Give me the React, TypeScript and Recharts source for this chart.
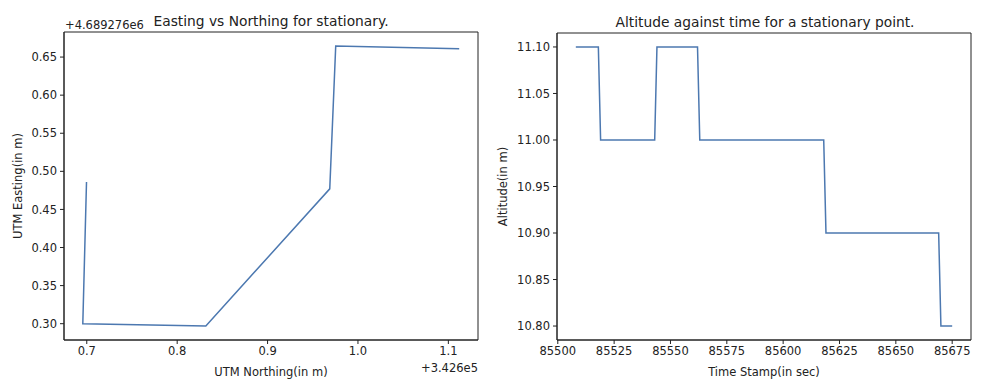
import React from "react";
import { LineChart, Line, XAxis, YAxis, Label, ReferenceArea } from "recharts";

// offsets shown by matplotlib next to the axes
const northingOffset = 342600;
const eastingOffset = 4689276;
const northingOffsetText = "+3.426e5";
const eastingOffsetText = "+4.689276e6";

// UTM values, relative to the offsets above
const northing = [0.6997, 0.6956, 0.8317, 0.9688, 0.9754, 1.112];
const easting = [0.486, 0.3, 0.297, 0.477, 0.6645, 0.661];
const northingTicks = [0.7, 0.8, 0.9, 1.0, 1.1];
const eastingTicks = [0.3, 0.35, 0.4, 0.45, 0.5, 0.55, 0.6, 0.65];

// altitude samples
const timeStamps = [85508, 85518, 85519, 85543, 85544, 85562, 85563, 85618, 85619, 85669, 85670, 85675];
const altitudes = [11.1, 11.1, 11.0, 11.0, 11.1, 11.1, 11.0, 11.0, 10.9, 10.9, 10.8, 10.8];
const timeTicks = [85500, 85525, 85550, 85575, 85600, 85625, 85650, 85675];
const altitudeTicks = [10.8, 10.85, 10.9, 10.95, 11.0, 11.05, 11.1];

const northingDomain: [number, number] = [0.6748, 1.1328];
const eastingDomain: [number, number] = [0.2786, 0.6829];
const timeDomain: [number, number] = [85499.65, 85683.35];
const altitudeDomain: [number, number] = [10.785, 11.115];

const FONT = "'DejaVu Sans', sans-serif";
const LINE = "#4c78b0";
const INK = "#222";
const tickStyle = { fontSize: 11.5, fill: INK, fontFamily: FONT };

const utmData = northing.map((n, i) => ({ n, e: easting[i] }));
const altData = timeStamps.map((t, i) => ({ t, a: altitudes[i] }));

const yLabel = (text: string, cx: number) => (props: any) => {
  const vb = props.viewBox;
  const y = vb.y + vb.height / 2;
  return (
    <text
      x={cx}
      y={y}
      transform={`rotate(-90 ${cx} ${y})`}
      textAnchor="middle"
      dominantBaseline="central"
      fontSize={11.5}
      fontFamily={FONT}
      fill={INK}
    >
      {text}
    </text>
  );
};

const titleStyle: React.CSSProperties = {
  position: "absolute",
  fontFamily: FONT,
  fontSize: 13.8,
  color: INK,
  whiteSpace: "nowrap",
  transform: "translate(-50%, -50%)",
};

const smallText: React.CSSProperties = {
  position: "absolute",
  fontFamily: FONT,
  fontSize: 11.5,
  color: INK,
  whiteSpace: "nowrap",
};

export default function App() {
  return (
    <div style={{ position: "absolute", left: 0, top: 0, width: 989, height: 382, background: "#fff" }}>
      <div style={{ position: "absolute", left: 0, top: 0 }}>
        <LineChart width={490} height={382} data={utmData} margin={{ top: 32, right: 12, bottom: 0, left: 0 }}>
          <XAxis
            dataKey="n"
            type="number"
            domain={northingDomain}
            allowDataOverflow
            ticks={northingTicks}
            tickFormatter={(v: number) => v.toFixed(1)}
            height={42}
            tickSize={4}
            tickMargin={3}
            tick={tickStyle}
            stroke={INK}
          >
            <Label value="UTM Northing(in m)" position="insideBottom" offset={6} style={tickStyle} />
          </XAxis>
          <YAxis
            dataKey="e"
            type="number"
            domain={eastingDomain}
            allowDataOverflow
            ticks={eastingTicks}
            tickFormatter={(v: number) => v.toFixed(2)}
            width={64}
            tickSize={4}
            tickMargin={3}
            tick={tickStyle}
            stroke={INK}
          >
            <Label content={yLabel("UTM Easting(in m)", 18)} />
          </YAxis>
          <ReferenceArea
            x1={northingDomain[0]}
            x2={northingDomain[1]}
            y1={eastingDomain[0]}
            y2={eastingDomain[1]}
            fill="none"
            fillOpacity={0}
            stroke={INK}
            strokeOpacity={1}
            strokeWidth={1}
          />
          <Line dataKey="e" stroke={LINE} strokeWidth={1.5} dot={false} isAnimationActive={false} />
        </LineChart>
      </div>
      <div style={{ ...titleStyle, left: 271, top: 21 }}>Easting vs Northing for stationary.</div>
      <div style={{ ...smallText, left: 65, top: 18 }} data-offset={eastingOffset}>{eastingOffsetText}</div>
      <div style={{ ...smallText, left: 421, top: 361 }} data-offset={northingOffset}>{northingOffsetText}</div>

      <div style={{ position: "absolute", left: 490, top: 0 }}>
        <LineChart width={499} height={382} data={altData} margin={{ top: 33, right: 18, bottom: 0, left: 0 }}>
          <XAxis
            dataKey="t"
            type="number"
            domain={timeDomain}
            allowDataOverflow
            ticks={timeTicks}
            height={42}
            tickSize={4}
            tickMargin={3}
            tick={tickStyle}
            stroke={INK}
          >
            <Label value="Time Stamp(in sec)" position="insideBottom" offset={6} style={tickStyle} />
          </XAxis>
          <YAxis
            dataKey="a"
            type="number"
            domain={altitudeDomain}
            allowDataOverflow
            ticks={altitudeTicks}
            tickFormatter={(v: number) => v.toFixed(2)}
            width={67}
            tickSize={4}
            tickMargin={3}
            tick={tickStyle}
            stroke={INK}
          >
            <Label content={yLabel("Altitude(in m)", 13)} />
          </YAxis>
          <ReferenceArea
            x1={timeDomain[0]}
            x2={timeDomain[1]}
            y1={altitudeDomain[0]}
            y2={altitudeDomain[1]}
            fill="none"
            fillOpacity={0}
            stroke={INK}
            strokeOpacity={1}
            strokeWidth={1}
          />
          <Line dataKey="a" stroke={LINE} strokeWidth={1.5} dot={false} isAnimationActive={false} />
        </LineChart>
      </div>
      <div style={{ ...titleStyle, left: 765, top: 22 }}>Altitude against time for a stationary point.</div>
    </div>
  );
}
